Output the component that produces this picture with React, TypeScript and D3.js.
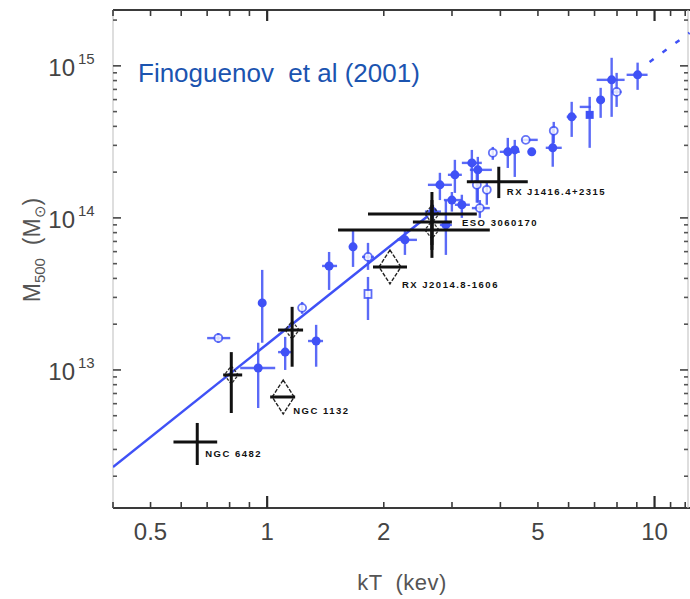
import React, { useEffect } from 'react';
import * as d3 from 'd3';

// ---------- data ----------
// Blue sample (Finoguenov et al. 2001): kT (keV), M500 (Msun), errors, marker kind
const blueKT = [0.971, 0.948, 0.748, 1.113, 1.231, 1.338, 1.821, 1.445, 1.666, 1.821, 2.268, 2.893, 2.792, 3.052, 2.998, 3.181, 3.376, 3.498, 3.477, 3.690, 3.824, 4.180, 4.357, 4.651, 4.819, 5.460, 5.493, 6.111, 6.801, 6.64, 7.259, 7.749, 7.982, 9.042, 2.678, 3.540];
const blueM = [2.76e13, 1.03e13, 1.62e13, 1.31e13, 2.56e13, 1.55e13, 3.16e13, 4.83e13, 6.45e13, 5.54e13, 7.17e13, 8.99e13, 1.65e14, 1.92e14, 1.31e14, 1.22e14, 2.30e14, 2.07e14, 1.65e14, 1.53e14, 2.68e14, 2.72e14, 2.80e14, 3.26e14, 2.72e14, 2.89e14, 3.74e14, 4.62e14, 4.76e14, 5.37e14, 5.97e14, 8.09e14, 6.74e14, 8.73e14, 1.10e14, 1.16e14];
const blueKTlo = [null, 0.852, 0.700, 1.067, null, 1.275, null, 1.386, 1.636, 1.757, 2.163, 2.792, 2.600, 2.928, 2.859, 3.052, 3.181, 3.336, null, null, null, 3.986, null, 4.542, null, 5.238, null, 5.933, null, 6.41, 7.089, 7.089, 7.749, 8.470, 2.554, 3.376];
const blueKThi = [null, 1.049, 0.803, 1.160, null, 1.394, null, 1.515, 1.696, 1.887, 2.436, 2.998, 2.998, 3.181, 3.181, 3.336, 3.582, 3.802, null, null, null, 4.488, null, 4.994, null, 5.760, null, 6.295, null, 6.84, 7.433, 8.370, 8.222, 9.594, 2.809, 3.756];
const blueMlo = [1.51e13, 5.62e12, 1.51e13, 1.00e13, 2.34e13, 1.05e13, 2.13e13, 3.36e13, 4.76e13, 4.55e13, 5.71e13, 5.71e13, 1.31e14, 1.46e14, 1.10e14, 1.00e14, 1.70e14, 1.26e14, 1.26e14, 1.22e14, 2.41e14, 2.13e14, 1.86e14, null, null, 2.17e14, 3.11e14, 3.41e14, 2.89e14, null, 4.55e14, 4.62e14, 5.37e14, 6.95e14, 9.70e13, 1.00e14];
const blueMhi = [4.55e13, 1.51e13, 1.75e13, 1.65e13, 2.80e13, 1.98e13, 4.09e13, 5.97e13, 8.34e13, 6.85e13, 8.34e13, 1.31e14, 1.98e14, 2.41e14, 1.48e14, 1.42e14, 2.80e14, 2.52e14, 1.98e14, 1.70e14, 2.93e14, 3.36e14, 3.26e14, null, null, 3.97e14, 4.28e14, 5.80e14, 6.25e14, null, 7.17e14, 1.13e15, 8.99e14, 1.05e15, 1.22e14, 1.31e14];
const blueMarker = ['f', 'f', 'o', 'f', 'o', 'f', 'q', 'f', 'f', 'o', 'f', 'f', 'f', 'f', 'f', 'f', 'f', 'f', 'o', 'o', 'o', 'f', 'f', 'o', 'f', 'f', 'o', 'f', 's', '-', 'f', 'f', 'o', 'f', 'f', 'o'];

// Fit line and its dashed continuation
const fitKT = [0.4, 2.6];
const fitM = [2.3e12, 1.03e14];
const fitHotKT = [9.71, 12.31];
const fitHotM = [1.06e15, 1.65e15];

// Black points (fossil groups)
const fossilKT = [0.660, 0.808, 1.160, 1.100, 2.075, 2.663, 2.663, 2.663, 3.962];
const fossilM = [3.36e12, 9.27e12, 1.83e13, 6.64e12, 4.76e13, 1.06e14, 8.34e13, 9.41e13, 1.73e14];
const fossilKTlo = [0.573, 0.770, 1.067, 1.018, 1.876, 1.821, 1.524, 2.378, 3.277];
const fossilKThi = [0.743, 0.862, 1.238, 1.181, 2.296, 3.477, 3.756, 2.998, 4.707];
const fossilMlo = [2.37e12, 5.21e12, 1.05e13, null, null, 6.64e13, 5.46e13, 6.16e13, 1.35e14];
const fossilMhi = [4.48e12, 1.31e13, 2.60e13, null, null, 1.48e14, 1.22e14, 1.31e14, 2.17e14];
const fossilDiamond = ['none', 'small', 'small', 'big', 'big', 'small', 'small', 'none', 'none'];
const fossilName = ['NGC 6482', '', '', 'NGC 1132', 'RX J2014.8-1606', '', '', 'ESO 3060170', 'RX J1416.4+2315'];
const fossilLabelDx = [8, 0, 0, 10, 12, 0, 0, 30, 8];
const fossilLabelDy = [15, 0, 0, 17, 21, 0, 0, 4, 13];

// Axis ticks
const xMinorTicks = [0.4, 0.5, 0.6, 0.7, 0.8, 0.9, 2, 3, 4, 5, 6, 7, 8, 9, 11, 12];
const xMajorTicks = [1, 10];
const xTickLabelValues = [0.5, 1, 2, 5, 10];
const xTickLabelText = ['0.5', '1', '2', '5', '10'];
const yDecades = [12, 13, 14, 15];
const yLabelExps = [13, 14, 15];

const BLUE = '#3f51f6';
const FONT = '"Liberation Sans", Arial, Helvetica, sans-serif';

export default function App() {
  useEffect(() => {
    document.body.style.margin = '0';
  }, []);

  const x = d3.scaleLog().domain([0.4, 12.2]).range([113, 688]);
  const y = d3.scaleLog().domain([1.236e12, 2.33e15]).range([508, 10]);
  const [x0, x1] = x.range();
  const [y0, y1] = y.range();

  const line = d3.line<[number, number]>().x(d => x(d[0])).y(d => y(d[1]));
  const fitPts = fitKT.map((k, i) => [k, fitM[i]] as [number, number]);
  const hotPts = fitHotKT.map((k, i) => [k, fitHotM[i]] as [number, number]);

  // y minor ticks
  const yMinor: number[] = [];
  yDecades.forEach(e => {
    for (let m = 2; m <= 9; m++) {
      const v = m * Math.pow(10, e);
      if (v >= y.domain()[0] && v <= y.domain()[1]) yMinor.push(v);
    }
  });
  const yMajor = yLabelExps.map(e => Math.pow(10, e));

  const diamond = (cx: number, cy: number, w: number, h: number) =>
    `M${cx},${cy - h / 2}L${cx + w / 2},${cy}L${cx},${cy + h / 2}L${cx - w / 2},${cy}Z`;

  return (
    <svg width={690} height={599} style={{ position: 'absolute', left: 0, top: 0, background: '#fff', display: 'block' }} fontFamily={FONT}>
      <rect x={0} y={0} width={690} height={599} fill="#fff" />
      <defs>
        <clipPath id="plotclip">
          <rect x={x0} y={y1} width={x1 - x0 + 2} height={y0 - y1} />
        </clipPath>
      </defs>

      {/* frame */}
      <line x1={x0} x2={690} y1={y0} y2={y0} stroke="#3a3a3a" strokeWidth={2} />
      <line x1={x0} x2={690} y1={y1} y2={y1} stroke="#3a3a3a" strokeWidth={2} />
      <line x1={x0} x2={x0} y1={y1} y2={y0} stroke="#c8c8c8" strokeWidth={1.2} />
      <line x1={x1} x2={x1} y1={y1} y2={y0} stroke="#c8c8c8" strokeWidth={1.2} />

      {/* x ticks */}
      {xMinorTicks.map(v => (
        <g key={'xm' + v}>
          <line x1={x(v)} x2={x(v)} y1={y0} y2={y0 - 6} stroke="#3a3a3a" strokeWidth={1.6} />
          <line x1={x(v)} x2={x(v)} y1={y1} y2={y1 + 6} stroke="#3a3a3a" strokeWidth={1.6} />
        </g>
      ))}
      {xMajorTicks.map(v => (
        <g key={'xM' + v}>
          <line x1={x(v)} x2={x(v)} y1={y0} y2={y0 - 12} stroke="#2a2a2a" strokeWidth={2.2} />
          <line x1={x(v)} x2={x(v)} y1={y1} y2={y1 + 11} stroke="#2a2a2a" strokeWidth={2.2} />
        </g>
      ))}
      {xTickLabelValues.map((v, i) => (
        <text key={'xl' + v} x={x(v)} y={540} textAnchor="middle" fontSize={24} fill="#444">
          {xTickLabelText[i]}
        </text>
      ))}

      {/* y ticks */}
      {yMinor.map(v => (
        <g key={'ym' + v}>
          <line x1={x0} x2={x0 + 4} y1={y(v)} y2={y(v)} stroke="#555" strokeWidth={1.6} />
          <line x1={x1} x2={x1 - 4} y1={y(v)} y2={y(v)} stroke="#555" strokeWidth={1.6} />
        </g>
      ))}
      {yMajor.map(v => (
        <g key={'yM' + v}>
          <line x1={x0} x2={x0 + 8} y1={y(v)} y2={y(v)} stroke="#444" strokeWidth={1.6} />
          <line x1={x1} x2={x1 - 8} y1={y(v)} y2={y(v)} stroke="#444" strokeWidth={1.6} />
        </g>
      ))}
      {yLabelExps.map(e => {
        const yy = y(Math.pow(10, e));
        return (
          <g key={'yl' + e} fill="#444">
            <text x={75} y={yy + 10} textAnchor="end" fontSize={24}>10</text>
            <text x={78} y={yy - 2} fontSize={15}>{e}</text>
          </g>
        );
      })}

      {/* axis titles */}
      <text x={402} y={590} textAnchor="middle" fontSize={22} fill="#555" letterSpacing={0.5} style={{ whiteSpace: 'pre' }}>
        {'kT  (kev)'}
      </text>
      <text transform="translate(40,250) rotate(-90)" textAnchor="middle" fontSize={23} fill="#555" style={{ whiteSpace: 'pre' }}>
        M<tspan fontSize={15} dy={5}>500</tspan>
        <tspan dy={-5}>{'  (M'}</tspan>
        <tspan fontSize={15} dy={5}>⊙</tspan>
        <tspan dy={-5}>)</tspan>
      </text>

      {/* title */}
      <text x={138} y={82} fontSize={26} fill="#1b54b0" style={{ whiteSpace: 'pre' }}>
        {'Finoguenov  et al (2001)'}
      </text>

      <g clipPath="url(#plotclip)">
        {/* fit line */}
        <path d={line(fitPts) || ''} fill="none" stroke={BLUE} strokeWidth={2.5} />
        <path d={line(hotPts) || ''} fill="none" stroke={BLUE} strokeWidth={2.5} strokeDasharray="5 11" />

        {/* blue points */}
        {blueKT.map((k, i) => {
          const cx = x(k);
          const cy = y(blueM[i]);
          const klo = blueKTlo[i], khi = blueKThi[i], mlo = blueMlo[i], mhi = blueMhi[i];
          const mk = blueMarker[i];
          return (
            <g key={'b' + i}>
              {mlo != null && mhi != null && (
                <line x1={cx} x2={cx} y1={y(mhi)} y2={y(mlo)} stroke={BLUE} strokeWidth={2.4} opacity={0.85} />
              )}
              {klo != null && khi != null && (
                <line x1={x(klo)} x2={x(khi)} y1={cy} y2={cy} stroke={BLUE} strokeWidth={2.4} opacity={0.85} />
              )}
              {mk === 'f' && <circle cx={cx} cy={cy} r={4.5} fill={BLUE} />}
              {mk === 's' && <rect x={cx - 4} y={cy - 4} width={8} height={8} fill={BLUE} />}
              {mk === 'o' && <circle cx={cx} cy={cy} r={4} fill="#fff" stroke={BLUE} strokeWidth={1.8} opacity={0.8} />}
              {mk === 'q' && <rect x={cx - 3.5} y={cy - 4} width={7} height={8} fill="#fff" stroke={BLUE} strokeWidth={1.8} opacity={0.85} />}
            </g>
          );
        })}

        {/* black fossil-group points */}
        {fossilKT.map((k, i) => {
          const cx = x(k);
          const cy = y(fossilM[i]);
          const mlo = fossilMlo[i], mhi = fossilMhi[i];
          const dk = fossilDiamond[i];
          return (
            <g key={'k' + i}>
              {dk === 'big' && <path d={diamond(cx, cy, 22, 34)} fill="none" stroke="#222" strokeWidth={1.4} strokeDasharray="4 1.5" />}
              {dk === 'small' && <path d={diamond(cx, cy, 14, 18)} fill="none" stroke="#333" strokeWidth={1.3} strokeDasharray="3 1.5" />}
              <line x1={x(fossilKTlo[i])} x2={x(fossilKThi[i])} y1={cy} y2={cy} stroke="#111" strokeWidth={3} />
              {mlo != null && mhi != null && (
                <line x1={cx} x2={cx} y1={y(mhi)} y2={y(mlo)} stroke="#111" strokeWidth={3} />
              )}
            </g>
          );
        })}
      </g>

      {/* fossil labels */}
      {fossilKT.map((k, i) =>
        fossilName[i] ? (
          <text key={'kl' + i} x={x(k) + fossilLabelDx[i]} y={y(fossilM[i]) + fossilLabelDy[i]} fontSize={9.5} fontWeight="bold" letterSpacing={1.5} fill="#111">
            {fossilName[i]}
          </text>
        ) : null
      )}
    </svg>
  );
}
